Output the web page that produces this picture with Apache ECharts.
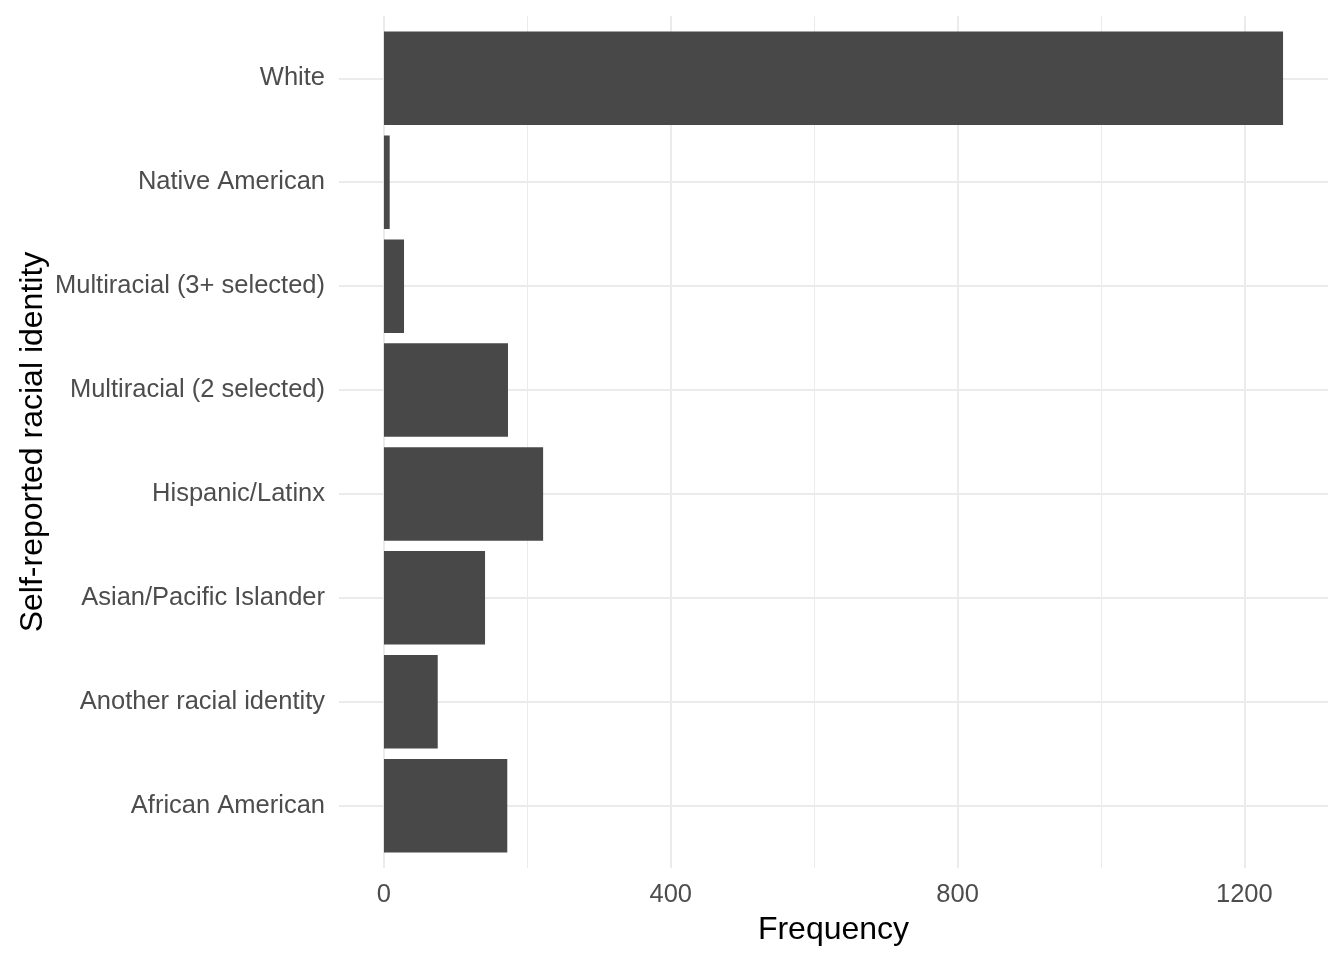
<!DOCTYPE html>
<html>
<head>
<meta charset="utf-8">
<script src="https://cdn.jsdelivr.net/npm/echarts@6/dist/echarts.min.js"></script>
<style>
  html, body { margin: 0; padding: 0; background: #fff; }
  #main { width: 1344px; height: 960px; }
</style>
</head>
<body>
<div id="main"></div>
<script>
// categories bottom -> top (ggplot coord_flip order)
var categories = ['African American', 'Another racial identity', 'Asian/Pacific Islander',
  'Hispanic/Latinx', 'Multiracial (2 selected)', 'Multiracial (3+ selected)',
  'Native American', 'White']
var frequency = [172, 75, 141, 222, 173, 28, 8, 1254]
var majorTicks = [0, 400, 800, 1200]
var minorTicks = [200, 600, 1000]
var bandPositions = [1, 2, 3, 4, 5, 6, 7, 8]

// ggplot default expansion: 5% on continuous, 0.6 on discrete
var dataMax = Math.max.apply(null, frequency)
var xMin = -0.05 * dataMax
var xMax = 1.05 * dataMax

var font = '"Liberation Sans", Arial, Helvetica, sans-serif'
var gridColor = '#EBEBEB'

var myChart = echarts.init(document.getElementById('main'))

myChart.setOption({
  backgroundColor: '#ffffff',
  animation: false,
  grid: [
    // full panel (gridlines)
    { left: 339, right: 16, top: 16, bottom: 92, containLabel: false },
    // bar area, 8 bands inset by 0.1 band on each side
    { left: 339, right: 16, top: 26.4, bottom: 102.4, containLabel: false }
  ],
  xAxis: [{
    type: 'value', gridIndex: 0, min: xMin, max: xMax,
    axisLine: { show: false },
    axisTick: { show: false, customValues: majorTicks },
    axisLabel: {
      customValues: majorTicks, color: '#4D4D4D', fontSize: 25.5, fontFamily: font, margin: 14,
      formatter: function (v) { return String(v) }
    },
    splitLine: { show: true, lineStyle: { color: gridColor, width: 2 } },
    name: 'Frequency', nameLocation: 'middle', nameGap: 46,
    nameTextStyle: { color: '#000', fontSize: 32, fontFamily: font }
  }, {
    type: 'value', gridIndex: 0, min: xMin, max: xMax,
    axisLine: { show: false },
    axisTick: { show: false, customValues: minorTicks },
    axisLabel: { show: false, customValues: minorTicks },
    splitLine: { show: true, lineStyle: { color: gridColor, width: 1 } }
  }, {
    type: 'value', gridIndex: 1, min: xMin, max: xMax, show: false,
    splitLine: { show: false }
  }],
  yAxis: [{
    type: 'value', gridIndex: 0, min: 0.4, max: 8.6,
    axisLine: { show: false },
    axisTick: { show: false, customValues: bandPositions },
    axisLabel: { show: false, customValues: bandPositions },
    splitLine: { show: true, lineStyle: { color: gridColor, width: 2 } },
    name: 'Self-reported racial identity', nameLocation: 'middle', nameGap: 290,
    nameTextStyle: { color: '#000', fontSize: 32, fontFamily: font }
  }, {
    type: 'category', gridIndex: 1, data: categories,
    axisLine: { show: false },
    axisTick: { show: false },
    splitLine: { show: false },
    axisLabel: {
      color: '#4D4D4D', fontSize: 25.5, fontFamily: font, margin: 14,
      verticalAlign: 'middle', lineHeight: 26, padding: [5, 0, 0, 0]
    }
  }],
  series: [{
    type: 'bar',
    xAxisIndex: 2,
    yAxisIndex: 1,
    data: frequency,
    barWidth: '90%',
    itemStyle: { color: '#484848' },
    silent: true
  }]
})
</script>
</body>
</html>
